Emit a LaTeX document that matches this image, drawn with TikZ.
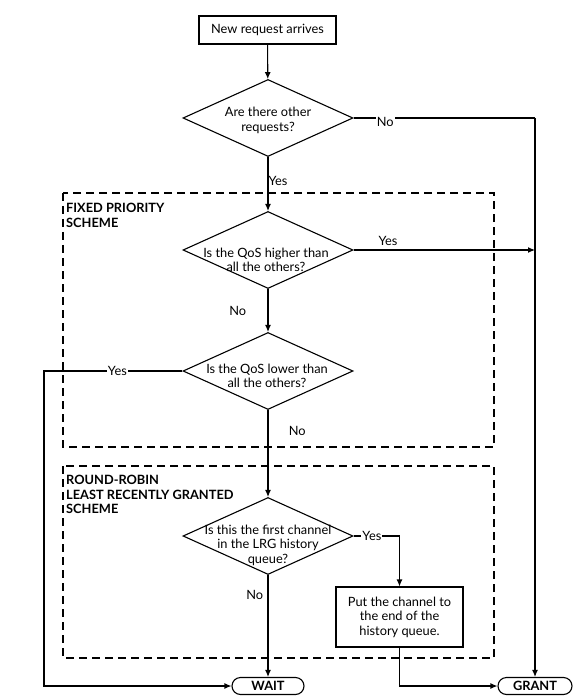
\documentclass[tikz,border=0pt]{standalone}
\usepackage{fontspec}
\setmainfont{Lato}
\usetikzlibrary{shapes.geometric,shapes.misc,arrows.meta,positioning}

\newcommand\flowfont{\fontsize{12.8}{14.5}\selectfont}

\tikzset{
  flowline/.style={line width=1.1pt},
  arrowline/.style={flowline,-{Latex[length=7pt,width=6pt]}},
  process/.style={draw,line width=1.1pt,align=center,inner sep=0pt},
  decision/.style={draw,diamond,line width=1.1pt,minimum width=170pt,minimum height=77pt,inner sep=0pt},
  qtext/.style={align=center,inner sep=0pt},
  terminal/.style={draw,rounded rectangle,line width=1.1pt,minimum width=72pt,minimum height=17pt,inner sep=0pt,font=\flowfont\bfseries},
  scheme/.style={line width=1.2pt,dash pattern=on 8pt off 5pt},
  schemetitle/.style={font=\flowfont\bfseries,align=left,anchor=north west,inner sep=0pt},
  edgelabel/.style={fill=white,inner sep=1pt}
}

\begin{document}
\begin{tikzpicture}[x=1pt,y=-1pt,font=\flowfont]
        \useasboundingbox (0,0) rectangle (579,700);

        % Scheme boxes
        \draw[scheme] (63,193) rectangle (494,447);
        \draw[scheme] (63,466) rectangle (494,658);
        \node[schemetitle] (fixedtitle) at (66,203) {FIXED PRIORITY\\SCHEME};
        \node[schemetitle] (lrgtitle) at (66,475) {ROUND-ROBIN\\LEAST RECENTLY GRANTED\\SCHEME};

        % Nodes
        \node[process,minimum width=137pt,minimum height=28pt] (start) at (267.5,30) {New request arrives};
        \node[decision,label={[qtext,yshift=-2.5pt]center:Are there other\\requests?}] (q1) at (268,118) {};
        \node[decision,label={[qtext,yshift=-10pt,xshift=-2pt]center:Is the QoS higher than\\all the others?}] (q2) at (268,250) {};
        \node[decision,label={[qtext,yshift=-5pt,xshift=-1pt]center:Is the QoS lower than\\all the others?}] (q3) at (268,371) {};
        \node[decision,label={[qtext,yshift=-9pt]center:Is this the first channel\\in the LRG history\\queue?}] (q4) at (268,536) {};
        \node[process,minimum width=127pt,minimum height=60pt] (move) at (399.5,617) {Put the channel to\\the end of the\\history queue.};
        \node[terminal] (wait) at (268,686) {WAIT};
        \node[terminal,minimum width=74pt] (grant) at (535,686) {GRANT};

        % Coordinates
        \coordinate (noturn) at (535,118);
        \coordinate (yesturn) at (44,371);

        % Drawing
        \draw[arrowline] (start) -- (q1);
        \draw[flowline] (q1.east) -- node[edgelabel,pos=0.175,yshift=-4pt] {No} (noturn);
        \draw[arrowline] (noturn) -- (grant);
        \draw[arrowline] (q1) -- node[pos=0.45,anchor=west,inner sep=0pt] {Yes} (q2);
        \draw[arrowline] (q2.east) -- node[pos=0.19,above=1pt] {Yes} (q2.east -| noturn);
        \draw[arrowline] (q2) -- node[pos=0.5,left=18pt] {No} (q3);
        \draw[arrowline] (q3.west) -- node[edgelabel,pos=0.47] {Yes} (yesturn) |- (wait);
        \draw[arrowline] (q3) -- node[pos=0.24,right=17pt] {No} (q4);
        \draw[arrowline] (q4.east) -| node[edgelabel,pos=0.2] {Yes} (move.north);
        \draw[arrowline] (q4) -- node[pos=0.2,left=1pt] {No} (wait);
        \draw[arrowline] (move) |- (grant);
\end{tikzpicture}
\end{document}
